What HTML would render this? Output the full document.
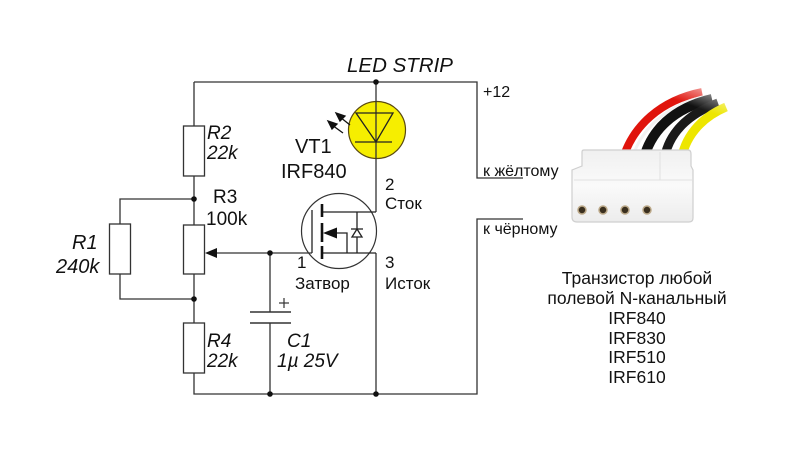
<!DOCTYPE html>
<html><head><meta charset="utf-8"><style>
html,body{margin:0;padding:0;background:#fff;}
svg{display:block;}
text{font-family:"Liberation Sans","Noto Sans CJK SC",sans-serif;fill:#111;}
</style></head><body>
<svg width="800" height="450" viewBox="0 0 800 450" xmlns="http://www.w3.org/2000/svg">
<defs>
<linearGradient id="bodyG" x1="0" y1="0" x2="0" y2="1">
<stop offset="0" stop-color="#f0f0f0"/><stop offset="0.5" stop-color="#fafafa"/><stop offset="1" stop-color="#ececec"/>
</linearGradient>
<linearGradient id="fade" x1="0" y1="1" x2="1" y2="0">
<stop offset="0.55" stop-color="#fff" stop-opacity="0"/><stop offset="0.9" stop-color="#fff" stop-opacity="0.9"/><stop offset="1" stop-color="#fff" stop-opacity="1"/>
</linearGradient>
</defs>
<g stroke="#333" stroke-width="1.3" fill="none">
<polyline points="194,82 477,82 477,178 523,178"/>
<polyline points="523,219 477,219 477,394 194,394 194,82"/>
<polyline points="194,199 120,199 120,299 194,299"/>
<line x1="376" y1="82" x2="376" y2="212"/>
<line x1="376" y1="253" x2="376" y2="394"/>
<line x1="270" y1="253" x2="270" y2="312"/>
<line x1="270" y1="323" x2="270" y2="394"/>
<line x1="212" y1="253" x2="312" y2="253"/>
</g>
<g stroke="#333" stroke-width="1.3" fill="#fff">
<rect x="183.5" y="126" width="21" height="50"/>
<rect x="183.5" y="225" width="21" height="49"/>
<rect x="183.5" y="323" width="21" height="50"/>
<rect x="109.5" y="224" width="21" height="50"/>
</g>
<polygon points="205,253 217,248 217,258" fill="#111"/>
<g stroke="#333" stroke-width="1.6">
<line x1="250" y1="312" x2="291" y2="312"/>
<line x1="250" y1="323" x2="291" y2="323"/>
<line x1="279" y1="303" x2="289" y2="303" stroke-width="1.2"/>
<line x1="284" y1="298" x2="284" y2="308" stroke-width="1.2"/>
</g>
<g fill="#111">
<circle cx="194" cy="199" r="2.8"/>
<circle cx="194" cy="299" r="2.8"/>
<circle cx="270" cy="253" r="2.8"/>
<circle cx="270" cy="394" r="2.8"/>
<circle cx="376" cy="394" r="2.8"/>
<circle cx="376" cy="82" r="2.8"/>
</g>
<circle cx="377" cy="130" r="28.5" fill="#f6ee00" stroke="#5a4a10" stroke-width="1.2"/>
<line x1="376" y1="101" x2="376" y2="159" stroke="#333" stroke-width="1.3"/>
<polygon points="356,113 393,113 376,142" fill="none" stroke="#222" stroke-width="1.3"/>
<line x1="355" y1="142" x2="392" y2="142" stroke="#222" stroke-width="1.3"/>
<g stroke="#111" stroke-width="1.3" fill="#111">
<line x1="350" y1="125" x2="340" y2="117"/>
<polygon points="336,113 345,116 340,121"/>
<line x1="343" y1="133" x2="332" y2="125"/>
<polygon points="328,121 337,124 332,129"/>
</g>
<circle cx="339" cy="231" r="37.5" fill="none" stroke="#333" stroke-width="1.2"/>
<g stroke="#222" stroke-width="1.3" fill="none">
<line x1="312" y1="210" x2="312" y2="253"/>
<polyline points="322,212 376,212"/>
<line x1="322" y1="253" x2="376" y2="253"/>
<polyline points="334,233 347,233 347,253"/>
<line x1="357" y1="212" x2="357" y2="253"/>
<polygon points="357,229 352,237 362,237" fill="#fff"/>
<line x1="351" y1="229" x2="363" y2="229"/>
</g>
<g stroke="#111" stroke-width="2.6">
<line x1="322" y1="204" x2="322" y2="217"/>
<line x1="322" y1="223" x2="322" y2="242"/>
<line x1="322" y1="246" x2="322" y2="259"/>
</g>
<polygon points="323,233 337,227.5 337,238.5" fill="#111"/>
<text x="347" y="72" font-size="20.5" font-style="italic">LED STRIP</text>
<text x="483" y="97" font-size="16">+12</text>
<text x="483" y="176" font-size="16">к жёлтому</text>
<text x="483" y="234" font-size="16">к чёрному</text>
<text x="207" y="139" font-size="19" font-style="italic">R2</text>
<text x="207" y="159" font-size="19" font-style="italic">22k</text>
<text x="213" y="203" font-size="19">R3</text>
<text x="206" y="225" font-size="19">100k</text>
<text x="72" y="249" font-size="20" font-style="italic">R1</text>
<text x="56" y="273" font-size="20" font-style="italic">240k</text>
<text x="207" y="347" font-size="19" font-style="italic">R4</text>
<text x="207" y="367" font-size="19" font-style="italic">22k</text>
<text x="287" y="347" font-size="19" font-style="italic">C1</text>
<text x="277" y="367" font-size="19" font-style="italic">1µ 25V</text>
<text x="295" y="153" font-size="20">VT1</text>
<text x="281" y="178" font-size="20">IRF840</text>
<text x="385" y="190" font-size="17">2</text>
<text x="385" y="209" font-size="17">Сток</text>
<text x="297" y="268" font-size="17">1</text>
<text x="295" y="289" font-size="17">Затвор</text>
<text x="385" y="268" font-size="17">3</text>
<text x="385" y="289" font-size="17">Исток</text>
<g font-size="17.5" text-anchor="middle">
<text x="637" y="284">Транзистор любой</text>
<text x="637" y="304">полевой N-канальный</text>
<text x="637" y="324">IRF840</text>
<text x="637" y="344">IRF830</text>
<text x="637" y="363">IRF510</text>
<text x="637" y="383">IRF610</text>
</g>
<g fill="none" stroke-linecap="butt">
<path d="M622,162 C632,125 662,100 702,92" stroke="#e0140c" stroke-width="8"/>
<path d="M631,162 C640,128 668,104 707,96" stroke="#f2f2f2" stroke-width="3"/>
<path d="M643,162 C650,130 674,108 712,99" stroke="#111" stroke-width="10"/>
<path d="M664,162 C667,134 688,114 718,103" stroke="#1a1a1a" stroke-width="9"/>
<path d="M681,162 C684,138 700,118 726,107" stroke="#ede600" stroke-width="9"/>
</g>
<rect x="600" y="78" width="140" height="50" fill="url(#fade)"/>
<path d="M584,150 L688,150 Q691,150 691,154 L691,166 L693,170 L693,218 Q693,222 689,222 L577,222 Q572,222 572,217 L572,170 L582,166 L582,152 Q582,150 584,150 Z" fill="url(#bodyG)" stroke="#cfcfcf" stroke-width="1.2"/>
<line x1="574" y1="180" x2="692" y2="180" stroke="#e2e2e2" stroke-width="1"/>
<line x1="660" y1="152" x2="660" y2="180" stroke="#e0e0e0" stroke-width="1"/>
<g fill="#3a2f1e" stroke="#bba888" stroke-width="1.5">
<circle cx="582" cy="210" r="4"/>
<circle cx="603" cy="210" r="4"/>
<circle cx="625" cy="210" r="4"/>
<circle cx="647" cy="210" r="4"/>
</g>
</svg>
</body></html>
